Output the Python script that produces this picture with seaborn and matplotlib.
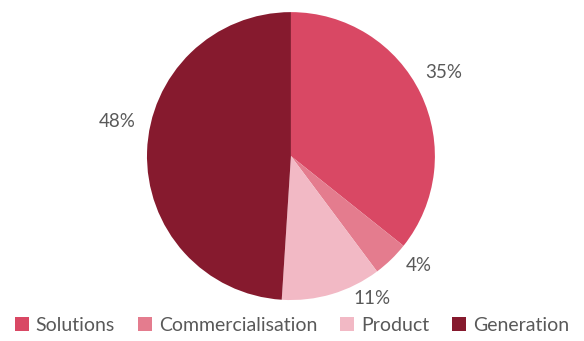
import matplotlib
matplotlib.use("Agg")
import matplotlib.pyplot as plt
import seaborn as sns
from matplotlib.patches import Patch

categories = ["Solutions", "Commercialisation", "Product", "Generation"]
shares = [35, 4, 11, 48]
colors = ["#D94864", "#E47C8E", "#F2B9C5", "#861A2E"]

# percentage label anchors (axes data units, pie radius = 1)
label_xy = [(1.06, 0.58), (0.89, -0.76), (0.56, -0.99), (-1.21, 0.24)]

sns.set_theme(style="white")
plt.rcParams["font.family"] = ["Lato", "DejaVu Sans"]

fig = plt.figure(figsize=(5.84, 3.41), dpi=100)
ax = fig.add_axes([0.2517, 0.120, 0.493, 0.8446])

wedges, texts = ax.pie(
    shares,
    colors=colors,
    startangle=90,
    counterclock=False,
    labels=[f"{v}%" for v in shares],
    labeldistance=1.17,
    wedgeprops=dict(linewidth=0),
    textprops=dict(color="#595959", fontsize=13.5),
)
for t, xy in zip(texts, label_xy):
    t.set_position(xy)
    t.set_horizontalalignment("center")
    t.set_verticalalignment("center")
ax.set_xlim(-1, 1)
ax.set_ylim(-1, 1)
ax.set_aspect("equal")
ax.axis("off")

handles = [Patch(facecolor=c, edgecolor="none") for c in colors]
fig.legend(
    handles, categories,
    loc="lower center", bbox_to_anchor=(0.5, -0.03),
    ncol=4, frameon=False,
    fontsize=14, labelcolor="#595959",
    handlelength=0.7, handleheight=0.7, handletextpad=0.35,
    columnspacing=1.2,
)

fig.savefig("out.png", dpi=100, facecolor="white")
